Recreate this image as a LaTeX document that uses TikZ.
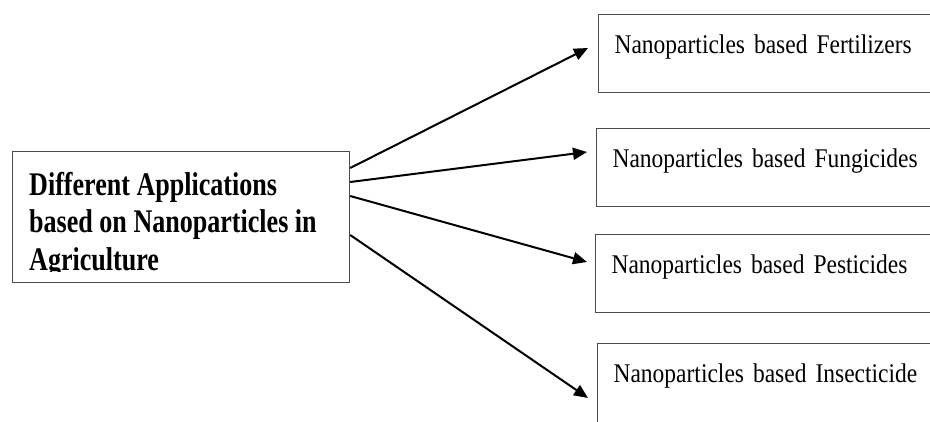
\documentclass[tikz,border=0pt]{standalone}
\usepackage{fontspec}
\setmainfont{Liberation Serif}
\newfontfamily\narrowserif{Liberation Serif}[FakeStretch=0.87, WordSpace=0.8]
\newfontfamily\narrowbold{Liberation Serif}[FakeStretch=0.79]
\usetikzlibrary{arrows.meta,positioning}

\tikzset{
  appbox/.style={draw=black!70, line width=1.2pt, minimum width=337pt, minimum height=131pt, inner sep=0pt, anchor=north west},
  apptext/.style={inner sep=0pt, align=left, anchor=base west, font=\narrowbold\bfseries\fontsize{33}{37.5}\selectfont},
  usebox/.style={draw=black!70, line width=1.2pt, anchor=north west, inner xsep=16pt, inner ysep=0pt,
    text width=330pt, text height=39pt, text depth=39pt, align=left, font=\narrowserif\fontsize{27}{30}\selectfont},
  usearrow/.style={line width=2pt, -{Triangle[length=14pt,width=12pt]}}
}

\begin{document}
\begin{tikzpicture}[x=1pt, y=-1pt]

  \clip (0,0) rectangle (930,421);

  % Main box
  \node[appbox] (apps) at (12,151) {};
  \begin{scope}
    \clip (apps.north west) rectangle ([yshift=-120pt]apps.north east);
    \node[apptext] (appstext) at ([xshift=17pt,yshift=-119pt]apps.north west)
      {Different Applications\\based on Nanoparticles in\\Agriculture};
  \end{scope}

  % Application boxes
  \node[usebox] (fert) at (598,14) {Nanoparticles based Fertilizers};
  \node[usebox] (fung) at (596,128) {Nanoparticles based Fungicides};
  \node[usebox] (pest) at (595,234) {Nanoparticles based Pesticides};
  \node[usebox, text depth=60pt] (insect) at (597,343) {Nanoparticles based Insecticide};

  % Arrows from main box
  \draw[usearrow] ([yshift=-17pt]apps.north east) -- ([xshift=-10pt,yshift=-34pt]fert.north west);
  \draw[usearrow] ([yshift=-31pt]apps.north east) -- ([xshift=-9pt,yshift=-24pt]fung.north west);
  \draw[usearrow] ([yshift=-45pt]apps.north east) -- ([xshift=-8pt,yshift=-28pt]pest.north west);
  \draw[usearrow] ([yshift=-84pt]apps.north east) -- ([xshift=-9pt,yshift=-55pt]insect.north west);

\end{tikzpicture}
\end{document}
